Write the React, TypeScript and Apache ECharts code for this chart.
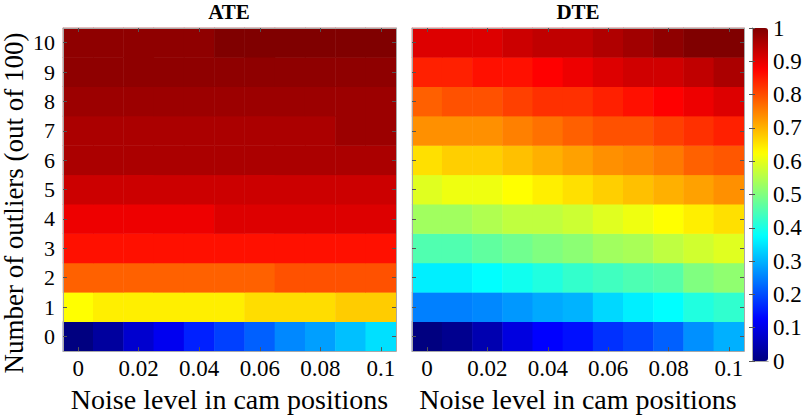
import React, { useEffect, useRef } from "react";
import * as echarts from "echarts";

const xCategories = ["0", "0.01", "0.02", "0.03", "0.04", "0.05", "0.06", "0.07", "0.08", "0.09", "0.1"];
const yCategories = ["0", "1", "2", "3", "4", "5", "6", "7", "8", "9", "10"];

// rows from y=0 (bottom) to y=10 (top), 11 noise levels each
const ateRows: number[][] = [
  [0.0, 0.03, 0.078, 0.11, 0.156, 0.1875, 0.219, 0.258, 0.281, 0.3125, 0.344],
  [0.625, 0.641, 0.641, 0.641, 0.641, 0.641, 0.658, 0.658, 0.658, 0.675, 0.675],
  [0.78, 0.78, 0.78, 0.78, 0.78, 0.78, 0.78, 0.796, 0.796, 0.796, 0.796],
  [0.859, 0.859, 0.859, 0.859, 0.859, 0.859, 0.859, 0.859, 0.859, 0.859, 0.859],
  [0.892, 0.892, 0.892, 0.892, 0.892, 0.908, 0.908, 0.908, 0.908, 0.908, 0.908],
  [0.925, 0.925, 0.925, 0.925, 0.925, 0.925, 0.925, 0.925, 0.925, 0.925, 0.925],
  [0.958, 0.958, 0.958, 0.958, 0.958, 0.958, 0.958, 0.958, 0.958, 0.958, 0.958],
  [0.958, 0.958, 0.958, 0.958, 0.958, 0.958, 0.958, 0.958, 0.958, 0.972, 0.972],
  [0.972, 0.972, 0.972, 0.972, 0.972, 0.972, 0.972, 0.972, 0.972, 0.972, 0.972],
  [0.985, 0.985, 0.985, 0.985, 0.985, 0.985, 0.985, 0.985, 0.985, 0.985, 0.985],
  [0.985, 0.985, 0.985, 0.985, 0.985, 1.0, 1.0, 1.0, 1.0, 1.0, 1.0],
];

const dteRows: number[][] = [
  [0.0, 0.015, 0.047, 0.094, 0.125, 0.14, 0.172, 0.19, 0.219, 0.266, 0.297],
  [0.25, 0.25, 0.258, 0.274, 0.29, 0.3, 0.337, 0.359, 0.375, 0.406, 0.422],
  [0.359, 0.359, 0.375, 0.391, 0.406, 0.425, 0.4375, 0.45, 0.46, 0.5, 0.516],
  [0.453, 0.453, 0.469, 0.485, 0.5, 0.512, 0.532, 0.54, 0.562, 0.579, 0.594],
  [0.532, 0.532, 0.547, 0.563, 0.563, 0.575, 0.594, 0.609, 0.625, 0.641, 0.656],
  [0.594, 0.609, 0.609, 0.625, 0.641, 0.656, 0.672, 0.6875, 0.703, 0.718, 0.734],
  [0.656, 0.672, 0.672, 0.6875, 0.703, 0.718, 0.734, 0.742, 0.757, 0.78, 0.79],
  [0.734, 0.734, 0.734, 0.75, 0.765, 0.781, 0.796, 0.796, 0.8125, 0.828, 0.844],
  [0.781, 0.796, 0.796, 0.8125, 0.828, 0.828, 0.844, 0.859, 0.875, 0.892, 0.908],
  [0.844, 0.844, 0.859, 0.859, 0.875, 0.892, 0.908, 0.921, 0.921, 0.9375, 0.958],
  [0.908, 0.908, 0.908, 0.925, 0.9375, 0.9375, 0.953, 0.968, 0.985, 1.0, 1.0],
];

const titles = ["ATE", "DTE"];
const xName = "Noise level in cam positions";
const yName = "Number of outliers (out of 100)";
const jetColors = ["#000080", "#0000ff", "#0080ff", "#00ffff", "#80ff80", "#ffff00", "#ff8000", "#ff0000", "#800000"];

const FONT = "Liberation Serif";

function toCells(rows: number[][]) {
  const out: [number, number, number][] = [];
  rows.forEach((row, yi) => row.forEach((v, xi) => out.push([xi, yi, v])));
  return out;
}

const frame = { show: true, lineStyle: { color: "#a8a8a8", width: 1 } };
const tick = (interval: number) => ({
  show: true,
  inside: true,
  length: 4,
  interval,
  alignWithLabel: true,
  lineStyle: { color: "#555", width: 1 },
});

export default function App() {
  const ref = useRef<HTMLDivElement>(null);
  useEffect(() => {
    if (!ref.current) return;
    const chart = echarts.init(ref.current, undefined, { renderer: "svg" });
    const grids = [
      { left: 63, top: 28, width: 333, height: 333 },
      { left: 412, top: 28, width: 332, height: 333 },
      { left: 752, top: 28, width: 16, height: 333 },
    ];
    const xAxes: any[] = [];
    const yAxes: any[] = [];
    [0, 1].forEach((g) => {
      xAxes.push({
        type: "category",
        gridIndex: g,
        data: xCategories,
        position: "bottom",
        z: 10,
        axisLine: frame,
        axisTick: tick(1),
        axisLabel: { interval: 1, fontFamily: FONT, fontSize: 23, color: "#000", margin: 6 },
        name: xName,
        nameLocation: "middle",
        nameGap: 29,
        nameTextStyle: { fontFamily: FONT, fontSize: 28, color: "#000" },
      });
      xAxes.push({
        type: "category",
        gridIndex: g,
        data: xCategories,
        position: "top",
        z: 10,
        axisLine: frame,
        axisTick: tick(1),
        axisLabel: { show: false },
      });
      yAxes.push({
        type: "category",
        gridIndex: g,
        data: yCategories,
        position: "left",
        z: 10,
        axisLine: frame,
        axisTick: tick(0),
        axisLabel: { show: g === 0, fontFamily: FONT, fontSize: 22, color: "#000", margin: 8 },
      });
      yAxes.push({
        type: "category",
        gridIndex: g,
        data: yCategories,
        position: "right",
        z: 10,
        axisLine: frame,
        axisTick: tick(0),
        axisLabel: { show: false },
      });
    });
    // colorbar frame axes
    xAxes.push({ type: "value", gridIndex: 2, min: 0, max: 1, position: "bottom", z: 10, axisLine: frame, axisTick: { show: false }, axisLabel: { show: false }, splitLine: { show: false } });
    xAxes.push({ type: "value", gridIndex: 2, min: 0, max: 1, position: "top", z: 10, axisLine: frame, axisTick: { show: false }, axisLabel: { show: false }, splitLine: { show: false } });
    yAxes.push({
      type: "value", gridIndex: 2, min: 0, max: 1, interval: 0.1, position: "right", z: 10,
      axisLine: frame,
      axisTick: { show: true, inside: true, length: 3, lineStyle: { color: "#555" } },
      axisLabel: { fontFamily: FONT, fontSize: 23, color: "#000", margin: 5, formatter: (v: number) => String(Math.round(v * 10) / 10) },
      splitLine: { show: false },
    });
    yAxes.push({
      type: "value", gridIndex: 2, min: 0, max: 1, interval: 0.1, position: "left", z: 10,
      axisLine: frame,
      axisTick: { show: true, inside: true, length: 3, lineStyle: { color: "#555" } },
      axisLabel: { show: false },
      splitLine: { show: false },
    });

    chart.setOption({
      animation: false,
      backgroundColor: "#fff",
      title: [
        { text: titles[0], left: 229, top: 1, textAlign: "center", padding: 0, textStyle: { fontFamily: FONT, fontSize: 21, fontWeight: "bold", color: "#000" } },
        { text: titles[1], left: 578, top: 1, textAlign: "center", padding: 0, textStyle: { fontFamily: FONT, fontSize: 21, fontWeight: "bold", color: "#000" } },
      ],
      grid: grids,
      xAxis: xAxes,
      yAxis: yAxes,
      visualMap: {
        type: "continuous",
        min: 0,
        max: 1,
        seriesIndex: [0, 1],
        calculable: false,
        hoverLink: false,
        left: 752,
        top: 28,
        padding: 0,
        itemWidth: 16,
        itemHeight: 333,
        text: null,
        inRange: { color: jetColors },
      },
      graphic: [
        {
          type: "text",
          x: 14,
          y: 203,
          rotation: Math.PI / 2,
          style: { text: yName, fontFamily: FONT, fontSize: 27, fill: "#000", align: "center", verticalAlign: "middle" },
        },
      ],
      series: [
        { type: "heatmap", xAxisIndex: 0, yAxisIndex: 0, data: toCells(ateRows), itemStyle: { borderWidth: 0 }, emphasis: { disabled: true } },
        { type: "heatmap", xAxisIndex: 2, yAxisIndex: 2, data: toCells(dteRows), itemStyle: { borderWidth: 0 }, emphasis: { disabled: true } },
      ],
    });
    return () => chart.dispose();
  }, []);
  return <div ref={ref} style={{ width: 806, height: 418, position: "absolute", left: 0, top: 0 }} />;
}
